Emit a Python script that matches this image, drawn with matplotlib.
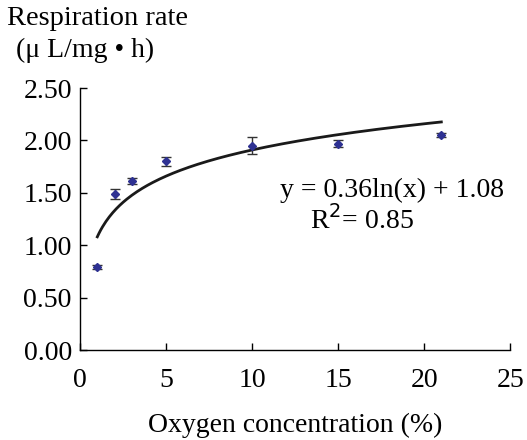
import numpy as np
import matplotlib.pyplot as plt

# Respiration rate vs oxygen concentration
oxygen = [1, 2, 3, 5, 10, 15, 21]
rate = [0.79, 1.49, 1.61, 1.80, 1.95, 1.97, 2.05]
rate_err = [0.02, 0.05, 0.03, 0.04, 0.08, 0.03, 0.02]

# logarithmic trendline y = a*ln(x) + b
fit_a = 0.36
fit_b = 1.08

plt.rcParams['font.family'] = ['Liberation Serif', 'DejaVu Serif']

fig = plt.figure(figsize=(5.27, 4.40), dpi=100)
ax = fig.add_axes([0.152, 0.2045, 0.816, 0.5955])

xs = np.linspace(min(oxygen), max(oxygen), 200)
ax.plot(xs, fit_a * np.log(xs) + fit_b, color='#1a1a1a', lw=2.0, zorder=2)

ax.errorbar(oxygen, rate, yerr=rate_err, fmt='D', color='#2e3192',
            markersize=4.5, ecolor='#333333', elinewidth=1.0,
            capsize=3.5, capthick=1.0, zorder=3)

ax.set_xlim(0, 25)
ax.set_ylim(0, 2.5)
ax.set_xticks([0, 5, 10, 15, 20, 25])
ax.set_yticks([0, 0.5, 1.0, 1.5, 2.0, 2.5])
ax.set_yticklabels([f"{v:.2f}" for v in [0, 0.5, 1.0, 1.5, 2.0, 2.5]])
ax.tick_params(direction='in', length=5, width=1, labelsize=20, pad=6)
ax.tick_params(axis='x', pad=13)

for s in ['top', 'right']:
    ax.spines[s].set_visible(False)
for s in ['left', 'bottom']:
    ax.spines[s].set_linewidth(1.0)

ax.set_xlabel("Oxygen concentration (%)", fontsize=20, labelpad=14)

fig.text(0.013, 0.957, "Respiration rate", fontsize=20.5, ha='left', va='center')
fig.text(0.030, 0.885, "(\u03bc L/mg \u2022 h)", fontsize=20, ha='left', va='center')

ax.text(0.985, 0.61, "y = 0.36ln(x) + 1.08", transform=ax.transAxes,
        fontsize=20, ha='right', va='center')
ax.text(0.535, 0.495, "R$^2$= 0.85", transform=ax.transAxes,
        fontsize=20, ha='left', va='center')

fig.savefig("out.png", dpi=100)
